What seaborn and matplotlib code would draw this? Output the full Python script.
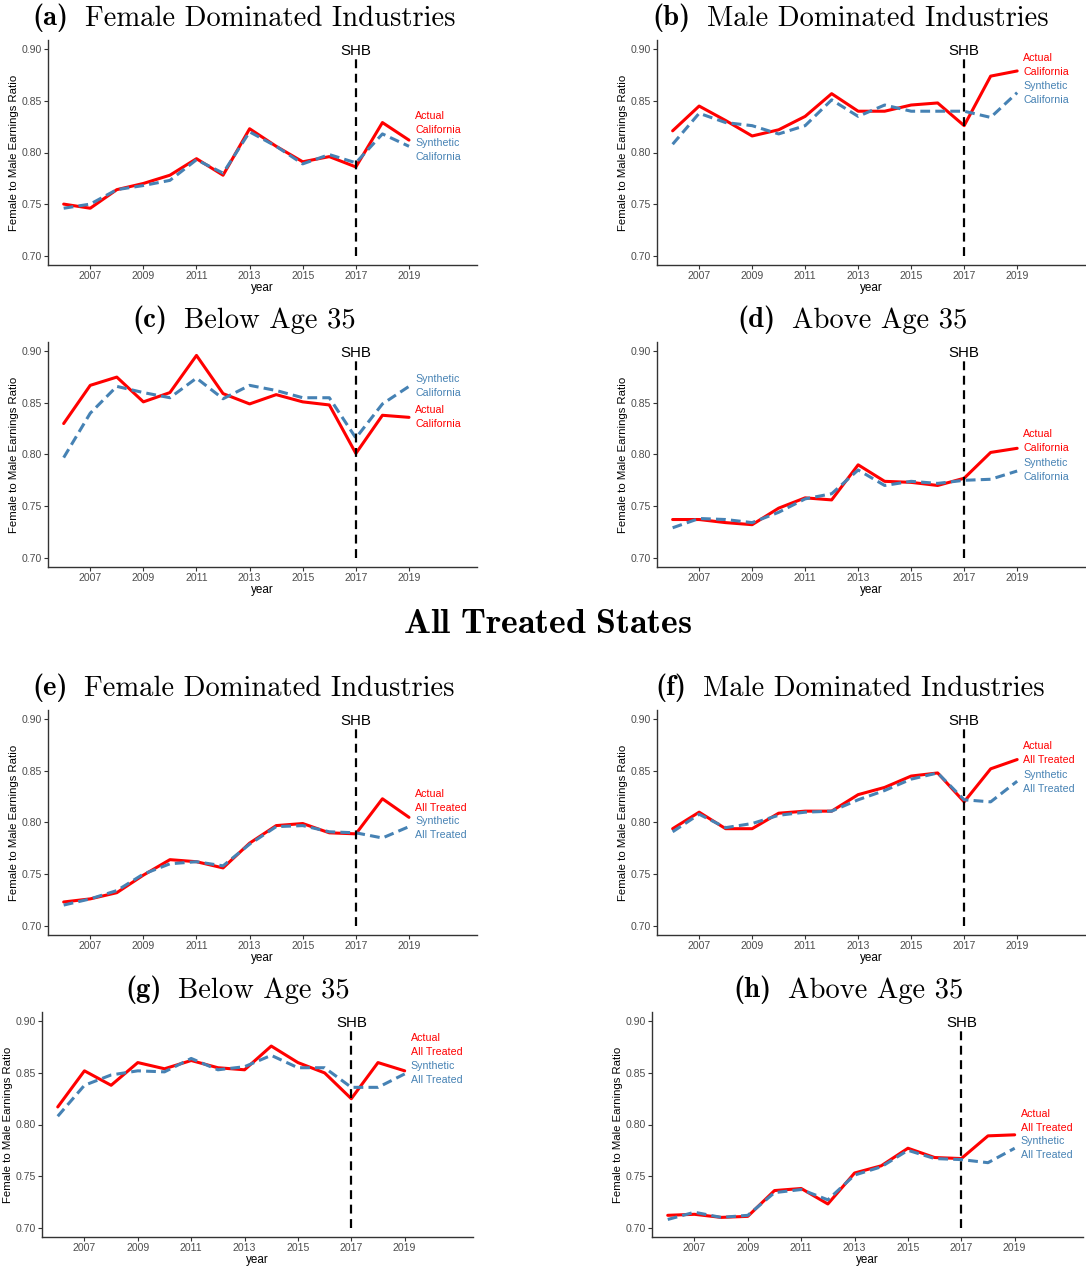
import matplotlib
matplotlib.use("Agg")
import matplotlib.pyplot as plt
import numpy as np
import pandas as pd
import seaborn as sns

# ---------------- data ----------------
years = list(range(2006, 2020))

# California
a_actual = [0.750, 0.746, 0.764, 0.770, 0.778, 0.794, 0.778, 0.823, 0.806, 0.791, 0.796, 0.786, 0.829, 0.812]
a_synth  = [0.746, 0.750, 0.764, 0.768, 0.773, 0.793, 0.780, 0.820, 0.806, 0.789, 0.798, 0.790, 0.818, 0.806]
b_actual = [0.821, 0.845, 0.831, 0.816, 0.822, 0.835, 0.857, 0.840, 0.840, 0.846, 0.848, 0.826, 0.874, 0.879]
b_synth  = [0.808, 0.838, 0.829, 0.826, 0.818, 0.826, 0.851, 0.835, 0.846, 0.840, 0.840, 0.840, 0.834, 0.858]
c_actual = [0.830, 0.867, 0.875, 0.851, 0.860, 0.896, 0.859, 0.849, 0.858, 0.851, 0.848, 0.801, 0.838, 0.836]
c_synth  = [0.797, 0.840, 0.866, 0.860, 0.855, 0.874, 0.854, 0.867, 0.862, 0.855, 0.855, 0.816, 0.849, 0.866]
d_actual = [0.737, 0.737, 0.734, 0.732, 0.748, 0.758, 0.756, 0.790, 0.774, 0.773, 0.770, 0.777, 0.802, 0.806]
d_synth  = [0.729, 0.738, 0.737, 0.734, 0.744, 0.757, 0.762, 0.785, 0.770, 0.774, 0.772, 0.775, 0.776, 0.784]
# All treated states
e_actual = [0.723, 0.726, 0.732, 0.749, 0.764, 0.762, 0.756, 0.780, 0.797, 0.799, 0.790, 0.789, 0.823, 0.805]
e_synth  = [0.720, 0.726, 0.734, 0.750, 0.760, 0.762, 0.758, 0.779, 0.796, 0.797, 0.791, 0.790, 0.785, 0.796]
f_actual = [0.794, 0.810, 0.794, 0.794, 0.809, 0.811, 0.811, 0.827, 0.834, 0.845, 0.848, 0.820, 0.852, 0.861]
f_synth  = [0.791, 0.808, 0.795, 0.799, 0.807, 0.810, 0.811, 0.822, 0.831, 0.842, 0.848, 0.822, 0.820, 0.840]
g_actual = [0.817, 0.852, 0.838, 0.860, 0.854, 0.862, 0.855, 0.853, 0.876, 0.860, 0.850, 0.825, 0.860, 0.852]
g_synth  = [0.808, 0.838, 0.848, 0.852, 0.851, 0.864, 0.853, 0.856, 0.867, 0.855, 0.855, 0.836, 0.836, 0.849]
h_actual = [0.712, 0.713, 0.710, 0.711, 0.736, 0.738, 0.723, 0.753, 0.760, 0.777, 0.768, 0.767, 0.789, 0.790]
h_synth  = [0.708, 0.715, 0.710, 0.712, 0.734, 0.737, 0.727, 0.751, 0.759, 0.775, 0.767, 0.766, 0.763, 0.777]

panel_letters = ["a", "b", "c", "d", "e", "f", "g", "h"]
panel_names = ["Female Dominated Industries", "Male Dominated Industries", "Below Age 35", "Above Age 35",
               "Female Dominated Industries", "Male Dominated Industries", "Below Age 35", "Above Age 35"]
unit_names = ["California"] * 4 + ["All Treated"] * 4
actuals = [a_actual, b_actual, c_actual, d_actual, e_actual, f_actual, g_actual, h_actual]
synths = [a_synth, b_synth, c_synth, d_synth, e_synth, f_synth, g_synth, h_synth]
x_ticks = [2007, 2009, 2011, 2013, 2015, 2017, 2019]
y_ticks = [0.70, 0.75, 0.80, 0.85, 0.90]
treat_year = 2017

# ---------------- layout (pixels) ----------------
W, H = 1086, 1268
axes_px = [(48, 40, 477, 265), (657, 40, 1085, 265),
           (48, 342, 477, 567), (657, 342, 1085, 567),
           (48, 710, 477, 935), (657, 710, 1085, 935),
           (42, 1012, 473, 1237), (652, 1012, 1083, 1237)]
# left edge and vertical centre of each panel title
title_px = [(32, 17.5), (652, 17.5), (132, 319.5), (737, 319.5),
            (32, 687.5), (655, 687.5), (125, 989.5), (733, 989.5)]
# vertical centres of the end labels (red block, blue block)
label_y = [(0.829, 0.802), (0.885, 0.858), (0.836, 0.866), (0.813, 0.785),
           (0.821, 0.795), (0.867, 0.839), (0.877, 0.850), (0.803, 0.777)]

RED = "#FF0000"
BLUE = "#4682B4"

sns.set_style("white")
plt.rcParams["font.family"] = ["Liberation Sans", "DejaVu Sans"]
plt.rcParams["mathtext.fontset"] = "cm"

fig = plt.figure(figsize=(W / 100, H / 100), dpi=100)


def add_ax(l, t, r, b):
    return fig.add_axes([l / W, 1 - b / H, (r - l) / W, (b - t) / H])


for i in range(8):
    ax = add_ax(*axes_px[i])
    df = pd.DataFrame({
        "year": years + years,
        "value": actuals[i] + synths[i],
        "series": ["Actual"] * len(years) + ["Synthetic"] * len(years),
    })
    sns.lineplot(data=df, x="year", y="value", hue="series", style="series",
                 hue_order=["Actual", "Synthetic"], style_order=["Actual", "Synthetic"],
                 palette={"Actual": RED, "Synthetic": BLUE},
                 dashes={"Actual": "", "Synthetic": (3.2, 1.7)},
                 linewidth=2.2, legend=False, ax=ax)
    ax.vlines(treat_year, 0.70, 0.894, colors="black", linestyles=(0, (4, 2.5)), linewidth=1.6)
    ax.text(treat_year, 0.8945, "SHB", ha="center", va="baseline", fontsize=10.8, color="black")

    ry, by = label_y[i]
    ax.text(2019.23, ry, "Actual\n" + unit_names[i], color=RED, fontsize=7.7,
            ha="left", va="center", linespacing=1.5)
    ax.text(2019.23, by, "Synthetic\n" + unit_names[i], color=BLUE, fontsize=7.7,
            ha="left", va="center", linespacing=1.5)

    ax.set_xlim(2005.41, 2021.56)
    ax.set_ylim(0.691, 0.909)
    ax.set_xticks(x_ticks)
    ax.set_yticks(y_ticks)
    ax.set_yticklabels([f"{v:.2f}" for v in y_ticks])
    ax.tick_params(axis="both", which="major", length=3, width=0.8, color="#333333",
                   labelsize=7.6, labelcolor="#4D4D4D", pad=1.6, bottom=True, left=True)
    ax.set_xlabel("year", fontsize=8.4, color="black", labelpad=0.8)
    ax.set_ylabel("Female to Male Earnings Ratio", fontsize=8.2, color="black", labelpad=1.8)
    for s in ["top", "right"]:
        ax.spines[s].set_visible(False)
    for s in ["left", "bottom"]:
        ax.spines[s].set_color("#333333")
        ax.spines[s].set_linewidth(1.0)
    ax.grid(False)

    tx, ty = title_px[i]
    t1 = fig.text(tx / W, 1 - ty / H, "(" + panel_letters[i] + ")",
                  fontfamily="cmb10", fontsize=20.6, color="black", ha="left", va="center")
    ax.annotate(panel_names[i], xy=(1, 0), xycoords=t1, xytext=(17, 0),
                textcoords="offset pixels", fontfamily="cmr10", fontsize=20.6, color="black",
                ha="left", va="bottom", annotation_clip=False)

fig.text(548 / W, 1 - 623 / H, r"$\mathbf{All\ Treated\ States}$",
         fontsize=25.8, color="black", ha="center", va="center")

fig.savefig("out.png", dpi=100, facecolor="white")
